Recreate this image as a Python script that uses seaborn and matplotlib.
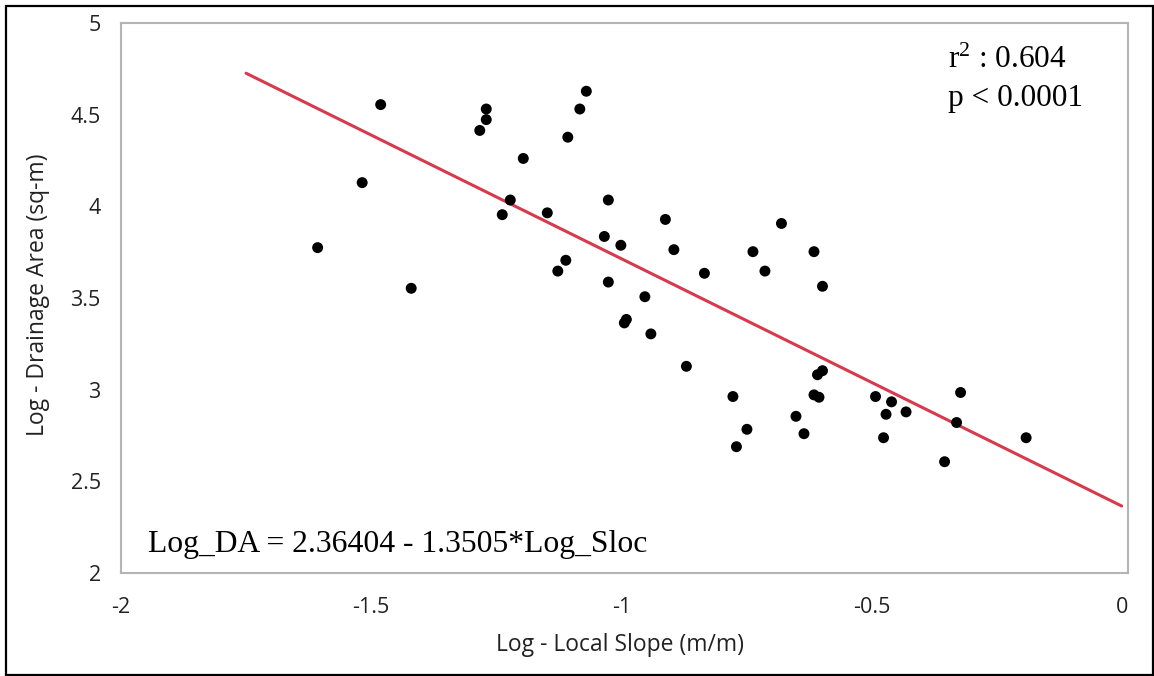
import matplotlib
matplotlib.use("Agg")
import matplotlib.pyplot as plt
import seaborn as sns
import pandas as pd
import numpy as np
from matplotlib.patches import Rectangle
from matplotlib.ticker import MultipleLocator

# ---- data ----
log_slope = [-1.607, -1.518, -1.481, -1.420, -1.283, -1.270, -1.270, -1.238, -1.222,
             -1.196, -1.148, -1.127, -1.111, -1.107, -1.083, -1.070, -1.034, -1.026,
             -1.026, -1.001, -0.994, -0.990, -0.953, -0.941, -0.912, -0.895, -0.870,
             -0.834, -0.777, -0.770, -0.749, -0.737, -0.713, -0.680, -0.651, -0.635,
             -0.615, -0.615, -0.608, -0.605, -0.598, -0.598, -0.492, -0.476, -0.471,
             -0.460, -0.431, -0.354, -0.330, -0.322, -0.191]
log_area = [3.775, 4.130, 4.556, 3.553, 4.415, 4.532, 4.474, 3.955, 4.035,
            4.262, 3.965, 3.647, 3.706, 4.378, 4.532, 4.629, 3.836, 4.035,
            3.587, 3.788, 3.364, 3.383, 3.507, 3.304, 3.929, 3.764, 3.127,
            3.635, 2.962, 2.688, 2.783, 3.753, 3.647, 3.907, 2.854, 2.759,
            3.753, 2.971, 3.081, 2.958, 3.564, 3.103, 2.962, 2.737, 2.865,
            2.933, 2.878, 2.606, 2.820, 2.984, 2.737]

fit_intercept = 2.36404
fit_slope = -1.3505
fit_x_range = [-1.75, 0.0]

x_ticks = [-2, -1.5, -1, -0.5, 0]
x_tick_labels = ["-2", "-1.5", "-1", "-0.5", "0"]
y_ticks = [2, 2.5, 3, 3.5, 4, 4.5, 5]
y_tick_labels = ["2", "2.5", "3", "3.5", "4", "4.5", "5"]

x_label = "Log - Local Slope (m/m)"
y_label = "Log - Drainage Area (sq-m)"
eq_text = "Log_DA = 2.36404 - 1.3505*Log_Sloc"
r2_text = "r$^{2}$ : 0.604"
p_text = "p < 0.0001"

# ---- build frames ----
pts = pd.DataFrame({"slope": log_slope, "area": log_area})
fit_x = np.array(fit_x_range)
fit = pd.DataFrame({"slope": fit_x, "area": fit_intercept + fit_slope * fit_x})

sns.set_style("white")
plt.rcParams["font.family"] = ["Open Sans", "DejaVu Sans"]
plt.rcParams["mathtext.fontset"] = "custom"
plt.rcParams["mathtext.rm"] = "Liberation Serif"
plt.rcParams["mathtext.it"] = "Liberation Serif:italic"

W, H = 1154, 676
L, R, T, B = 121.0, 1127.7, 23.3, 572.7
fig = plt.figure(figsize=(W / 100, H / 100), dpi=100)
ax = fig.add_axes([L / W, 1 - B / H, (R - L) / W, (B - T) / H])

sns.lineplot(data=fit, x="slope", y="area", ax=ax, color="#d63a4c", linewidth=2.2,
             zorder=2)
sns.scatterplot(data=pts, x="slope", y="area", ax=ax, color="black", s=62,
                edgecolor="none", linewidth=0, zorder=3)

px_per_unit = (1121.7 - L) / 2.0
ax.set_xlim(-2, -2 + (R - L) / px_per_unit)
ax.set_ylim(2, 5)
ax.set_xticks(x_ticks)
ax.set_xticklabels(x_tick_labels)
ax.set_yticks(y_ticks)
ax.set_yticklabels(y_tick_labels)
ax.xaxis.set_minor_locator(MultipleLocator(0.25))
ax.yaxis.set_minor_locator(MultipleLocator(0.25))

spine_c = "#b4b4b4"
for s in ax.spines.values():
    s.set_color(spine_c)
    s.set_linewidth(1.5)
ax.tick_params(axis="both", which="major", direction="out", length=8.6, width=1.1,
               color=spine_c, labelsize=15.5, labelcolor="#222222")
ax.tick_params(axis="both", which="minor", direction="out", length=4.3, width=1.0,
               color=spine_c)
ax.tick_params(axis="x", which="major", pad=9)
ax.tick_params(axis="y", which="major", pad=6)

ax.set_xlabel(x_label, fontsize=16.5, color="#222222")
ax.set_ylabel(y_label, fontsize=16.5, color="#222222")
ax.xaxis.set_label_coords((620.5 - L) / (R - L), (B - 645) / (B - T))
ax.xaxis.label.set_va("center")
ax.yaxis.set_label_coords((38 - L) / (R - L), (B - 294.5) / (B - T))
ax.yaxis.label.set_va("center")

serif = ["Liberation Serif", "DejaVu Serif"]
fig.text(948 / W, 1 - 68 / H, r2_text, fontsize=22.5, family=serif, color="black",
         va="baseline", ha="left")
fig.text(948 / W, 1 - 106 / H, p_text, fontsize=22.5, family=serif, color="black",
         va="baseline", ha="left")
fig.text(148 / W, 1 - 552 / H, eq_text, fontsize=22.8, family=serif, color="black",
         va="baseline", ha="left")

# outer frame of the screenshot
fig.patches.append(Rectangle((5.5 / W, 1.5 / H), (1152.5 - 5.5) / W, (674.5 - 5.5) / H,
                             transform=fig.transFigure, fill=False,
                             edgecolor="black", linewidth=1.6))

fig.savefig("out.png", dpi=100, facecolor="white")
